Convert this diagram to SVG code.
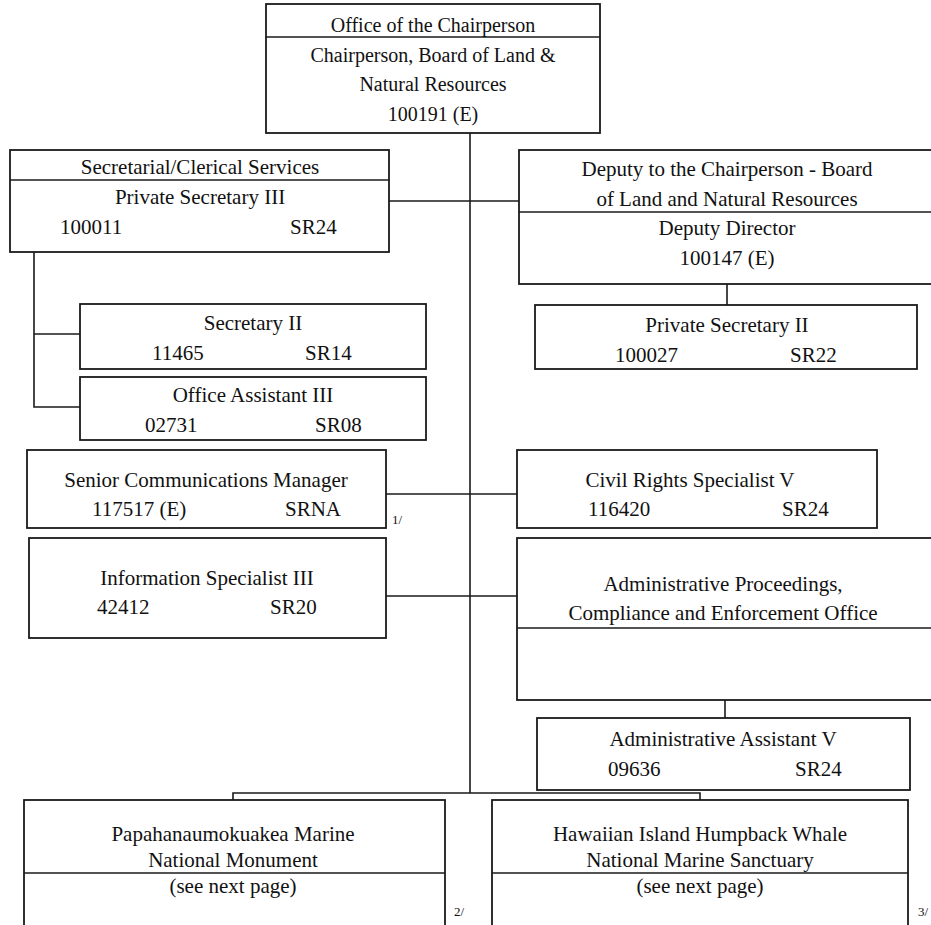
<svg xmlns="http://www.w3.org/2000/svg" width="931" height="925" viewBox="0 0 931 925">
<style>
.box{fill:#fff;stroke:#1a1a1a;stroke-width:1.8}
.ln{fill:none;stroke:#1a1a1a;stroke-width:1.6}
text{font-family:"Liberation Serif","Times New Roman",serif;font-size:21px;fill:#111}
.c{text-anchor:middle}
.t{font-size:20px}
.n{font-size:13px}
</style>
<rect width="931" height="925" fill="#fff"/>
<g id="connectors">
<line class="ln" x1="470" y1="133" x2="470" y2="793"/>
<line class="ln" x1="389" y1="201" x2="519" y2="201"/>
<line class="ln" x1="727" y1="284" x2="727" y2="305"/>
<polyline class="ln" points="34,252 34,407 80,407"/>
<line class="ln" x1="34" y1="334" x2="80" y2="334"/>
<line class="ln" x1="386" y1="494" x2="517" y2="494"/>
<line class="ln" x1="386" y1="596" x2="517" y2="596"/>
<line class="ln" x1="725" y1="700" x2="725" y2="718"/>
<polyline class="ln" points="233,800 233,793 700,793 700,800"/>
</g>
<g id="chair">
<rect class="box" x="266" y="4" width="334" height="129"/>
<line class="ln" x1="266" y1="37" x2="600" y2="37"/>
<text class="c t" x="433" y="32">Office of the Chairperson</text>
<text class="c t" x="433" y="62">Chairperson, Board of Land &amp;</text>
<text class="c t" x="433" y="91">Natural Resources</text>
<text class="c t" x="433" y="121">100191 (E)</text>
</g>
<g id="secretarial">
<rect class="box" x="10" y="150" width="379" height="102"/>
<line class="ln" x1="10" y1="180" x2="389" y2="180"/>
<text class="c" x="200" y="174">Secretarial/Clerical Services</text>
<text class="c" x="200" y="204">Private Secretary III</text>
<text x="60" y="234">100011</text>
<text x="290" y="234">SR24</text>
</g>
<g id="deputy">
<rect class="box" x="519" y="150" width="430" height="134"/>
<line class="ln" x1="519" y1="212" x2="931" y2="212"/>
<text class="c" x="727" y="176">Deputy to the Chairperson - Board</text>
<text class="c" x="727" y="206">of Land and Natural Resources</text>
<text class="c" x="727" y="235">Deputy Director</text>
<text class="c" x="727" y="265">100147 (E)</text>
</g>
<g id="privsec2">
<rect class="box" x="535" y="305" width="382" height="64"/>
<text class="c" x="727" y="332">Private Secretary II</text>
<text x="615" y="362">100027</text>
<text x="790" y="362">SR22</text>
</g>
<g id="sec2">
<rect class="box" x="80" y="304" width="346" height="65"/>
<text class="c" x="253" y="330">Secretary II</text>
<text x="152" y="360">11465</text>
<text x="305" y="360">SR14</text>
</g>
<g id="offasst3">
<rect class="box" x="80" y="377" width="346" height="63"/>
<text class="c" x="253" y="402">Office Assistant III</text>
<text x="145" y="432">02731</text>
<text x="315" y="432">SR08</text>
</g>
<g id="seniorcomm">
<rect class="box" x="27" y="450" width="359" height="78"/>
<text class="c" x="206" y="487">Senior Communications Manager</text>
<text x="92" y="516">117517 (E)</text>
<text x="285" y="516">SRNA</text>
<text class="n" x="392" y="524">1/</text>
</g>
<g id="civilrights">
<rect class="box" x="517" y="450" width="360" height="78"/>
<text class="c" x="690" y="487">Civil Rights Specialist V</text>
<text x="588" y="516">116420</text>
<text x="782" y="516">SR24</text>
</g>
<g id="infospec">
<rect class="box" x="29" y="538" width="357" height="100"/>
<text class="c" x="207" y="585">Information Specialist III</text>
<text x="97" y="614">42412</text>
<text x="270" y="614">SR20</text>
</g>
<g id="adminproc">
<rect class="box" x="517" y="538" width="430" height="162"/>
<line class="ln" x1="517" y1="628" x2="931" y2="628"/>
<text class="c" x="723" y="591">Administrative Proceedings,</text>
<text class="c" x="723" y="620">Compliance and Enforcement Office</text>
</g>
<g id="adminasst5">
<rect class="box" x="537" y="718" width="373" height="72"/>
<text class="c" x="723" y="746">Administrative Assistant V</text>
<text x="608" y="776">09636</text>
<text x="795" y="776">SR24</text>
</g>
<g id="papahanaumokuakea">
<rect class="box" x="24" y="800" width="421" height="140"/>
<line class="ln" x1="24" y1="873" x2="445" y2="873"/>
<text class="c" x="233" y="841">Papahanaumokuakea Marine</text>
<text class="c" x="233" y="867">National Monument</text>
<text class="c" x="233" y="893">(see next page)</text>
<text class="n" x="454" y="916">2/</text>
</g>
<g id="humpback">
<rect class="box" x="492" y="800" width="416" height="140"/>
<line class="ln" x1="492" y1="873" x2="908" y2="873"/>
<text class="c" x="700" y="841">Hawaiian Island Humpback Whale</text>
<text class="c" x="700" y="867">National Marine Sanctuary</text>
<text class="c" x="700" y="893">(see next page)</text>
<text class="n" x="918" y="916">3/</text>
</g>
</svg>
